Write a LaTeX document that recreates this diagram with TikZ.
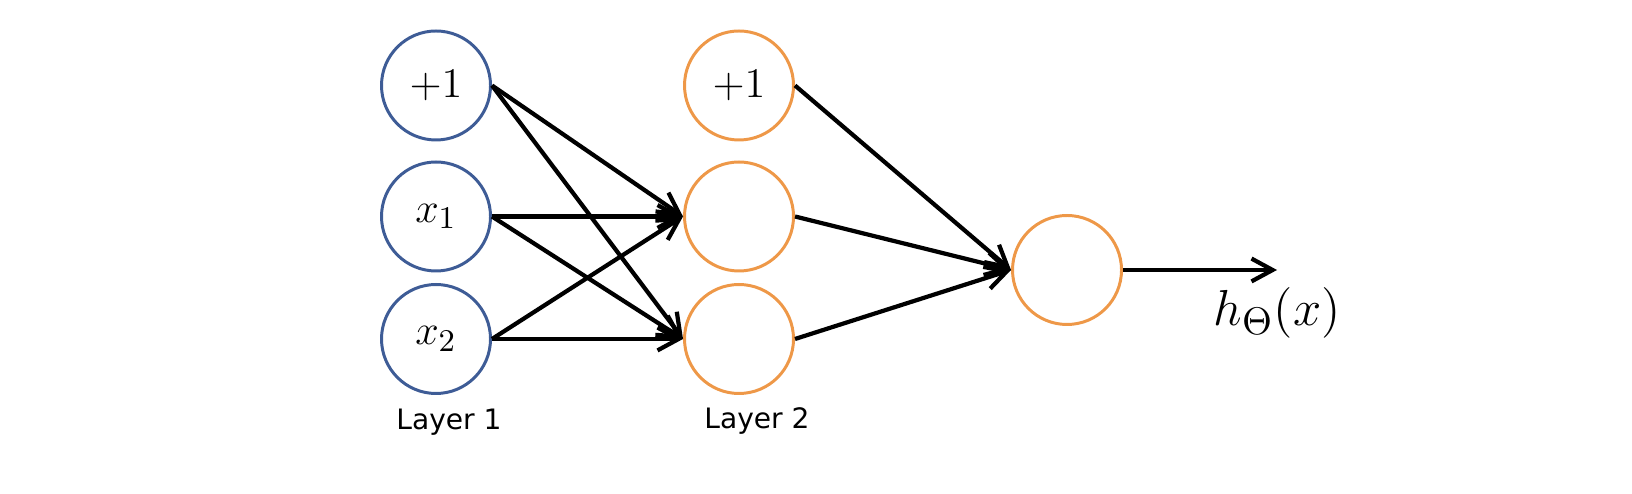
\documentclass[tikz,border=0pt]{standalone}
\usepackage{fontspec}
\newfontfamily\layerfont{DejaVu Sans}
\DeclareMathSizes{11.5}{11.5}{9.5}{7}
\DeclareMathSizes{14}{14}{11}{8}
\usetikzlibrary{arrows.meta}
\definecolor{inblue}{RGB}{62,92,150}
\definecolor{hidorange}{RGB}{238,152,72}
\begin{document}
\begin{tikzpicture}
[font=\fontsize{11.5}{14}\selectfont, line width=0.85pt,
unit/.style={circle, draw, inner sep=0pt, minimum size=10.9mm},
input/.style={unit, draw=inblue},
hidden/.style={unit, draw=hidorange},
wire/.style={-{Straight Barb[length=6pt,width=6.5pt]}, line width=1.2pt},
layer/.style={font=\layerfont\fontsize{8}{10}\selectfont}]

\useasboundingbox (0,0) rectangle (16.32,4.94);

\node[input] (x0) at (4.36,4.085) {$+1$};
\node[input] (x1) at (4.36,2.775) {$x_1$};
\node[input] (x2) at (4.36,1.55) {$x_2$};

\node[hidden] (a0) at (7.39,4.085) {$+1$};
\node[hidden] (a1) at (7.39,2.775) {};
\node[hidden] (a2) at (7.39,1.55) {};

\node[hidden] (out) at (10.67,2.24) {};

\foreach \i in {0, 1, 2} {
    \foreach \j in {1, 2} {
        \draw[wire] (x\i.east) -- (a\j.west);
    }
    \draw[wire] (a\i.east) -- (out.west);
}

\coordinate (hend) at (12.77,2.24);
\draw[wire] (out.east) -- (hend);
\node[font=\fontsize{14}{16}\selectfont] (hlabel) at (12.77,1.81) {$h_\Theta(x)$};

\node[layer] (layer1) at (4.49,0.72) {Layer 1};
\node[layer] (layer2) at (7.57,0.73) {Layer 2};

\end{tikzpicture}
\end{document}
